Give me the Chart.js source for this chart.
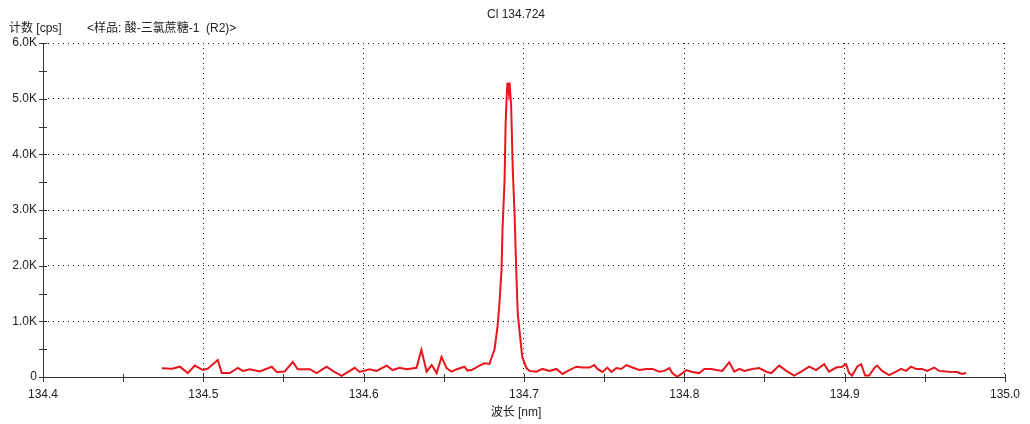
<!DOCTYPE html>
<html>
<head>
<meta charset="utf-8">
<title>Cl 134.724</title>
<script src="https://cdn.jsdelivr.net/npm/chart.js@4/dist/chart.umd.min.js"></script>
<style>
  html, body { margin: 0; padding: 0; background: #fff; }
  #wrap { width: 1030px; height: 424px; }
</style>
</head>
<body>
<div id="wrap"><canvas id="spectrum" width="1030" height="424"></canvas></div>
<script>
// Scan of the Cl 134.724 nm line
const wavelengths = [
  134.4741, 134.4804, 134.4854, 134.4903, 134.4947, 134.4997, 134.5028, 134.5090,
  134.5115, 134.5165, 134.5215, 134.5246, 134.5290, 134.5352, 134.5427, 134.5458,
  134.5508, 134.5558, 134.5589, 134.5664, 134.5707, 134.5769, 134.5807, 134.5863,
  134.5913, 134.5944, 134.5975, 134.6037, 134.6081, 134.6143, 134.6181, 134.6224,
  134.6268, 134.6330, 134.6360, 134.6393, 134.6424, 134.6455, 134.6486, 134.6517,
  134.6548, 134.6586, 134.6629, 134.6648, 134.6673, 134.6723, 134.6754, 134.6785,
  134.6804, 134.6816, 134.6835, 134.6847, 134.6860, 134.6866, 134.6879, 134.6885,
  134.6893, 134.6897, 134.6905, 134.6910, 134.6920, 134.6930, 134.6941, 134.6951,
  134.6961, 134.6976, 134.6989, 134.7016, 134.7034, 134.7078, 134.7115, 134.7159,
  134.7202, 134.7240, 134.7283, 134.7327, 134.7364, 134.7408, 134.7439, 134.7458,
  134.7489, 134.7520, 134.7545, 134.7576, 134.7607, 134.7639, 134.7676, 134.7720,
  134.7763, 134.7801, 134.7844, 134.7875, 134.7907, 134.7925, 134.7956, 134.7988,
  134.8012, 134.8050, 134.8093, 134.8125, 134.8168, 134.8199, 134.8237, 134.8280,
  134.8312, 134.8343, 134.8374, 134.8424, 134.8467, 134.8511, 134.8542, 134.8592,
  134.8636, 134.8685, 134.8729, 134.8779, 134.8822, 134.8872, 134.8903, 134.8947,
  134.8984, 134.9009, 134.9028, 134.9047, 134.9078, 134.9103, 134.9128, 134.9153,
  134.9184, 134.9202, 134.9234, 134.9277, 134.9321, 134.9352, 134.9383, 134.9414,
  134.9445, 134.9483, 134.9514, 134.9558, 134.9589, 134.9651, 134.9701, 134.9732,
  134.9757
];

const counts = [
  155, 150, 185, 70, 205, 125, 150, 305,
  70, 70, 165, 110, 140, 100, 185, 90,
  100, 270, 140, 140, 70, 185, 110, 20,
  110, 165, 90, 140, 110, 205, 125, 165,
  140, 165, 490, 95, 215, 70, 360, 160,
  95, 145, 185, 115, 125, 205, 245, 235,
  395, 490, 905, 1330, 1925, 2645, 3545, 4500,
  5110, 5290, 5110, 5290, 4865, 3725, 2950, 1980,
  1150, 720, 360, 160, 110, 95, 145, 110,
  145, 55, 125, 185, 170, 170, 215, 145,
  90, 170, 90, 160, 145, 215, 170, 125,
  145, 145, 95, 110, 160, 70, 5, 70,
  125, 90, 70, 145, 145, 125, 110, 265,
  95, 145, 110, 145, 160, 95, 70, 205,
  110, 25, 95, 185, 125, 230, 95, 170,
  185, 230, 70, 25, 185, 230, 25, 25,
  160, 205, 110, 35, 95, 145, 110, 185,
  145, 145, 110, 170, 110, 95, 90, 55,
  70
];

const xRange = [134.4, 135.0];
const yRange = [0, 6000];

const titleText = "Cl 134.724";
const yUnitText = "计数 [cps]";
const sampleText = "<样品: 酸-三氯蔗糖-1  (R2)>";
const xTitleText = "波长 [nm]";

const FONT = '"Liberation Sans", Arial, "Noto Sans CJK SC", sans-serif';
const TEXT_COLOR = "#222";
const AXIS_COLOR = "#333";

const isMajorX = (v) => Math.round(v * 100) % 10 === 0;
const isMajorY = (v) => Math.round(v) % 1000 === 0;

// Solid axes with ticks crossing the line, plus the header texts
const frame = {
  id: "frame",
  afterDraw(chart) {
    const { ctx, chartArea, scales } = chart;
    const { left, right, top, bottom } = chartArea;
    ctx.save();
    ctx.strokeStyle = AXIS_COLOR;
    ctx.lineWidth = 1;
    ctx.beginPath();
    ctx.moveTo(left + 0.5, top);
    ctx.lineTo(left + 0.5, bottom + 0.5);
    ctx.lineTo(right, bottom + 0.5);
    ctx.stroke();

    ctx.beginPath();
    scales.x.ticks.forEach((t) => {
      const px = Math.round(scales.x.getPixelForValue(t.value)) + 0.5;
      ctx.moveTo(px, bottom - 3);
      ctx.lineTo(px, bottom + 5);
    });
    scales.y.ticks.forEach((t) => {
      const py = Math.round(scales.y.getPixelForValue(t.value)) + 0.5;
      ctx.moveTo(left - 4, py);
      ctx.lineTo(left + 4, py);
    });
    ctx.stroke();

    ctx.fillStyle = TEXT_COLOR;
    ctx.font = "12px " + FONT;
    ctx.textBaseline = "middle";
    ctx.textAlign = "center";
    ctx.fillText(titleText, 516, 15);
    ctx.fillText(xTitleText, 516, 413);
    ctx.textAlign = "left";
    ctx.fillText(yUnitText, 9, 29);
    ctx.fillText(sampleText, 87, 29);
    ctx.restore();
  },
};

new Chart(document.getElementById("spectrum"), {
  type: "line",
  data: {
    datasets: [
      {
        data: wavelengths.map((w, i) => ({ x: w, y: counts[i] })),
        borderColor: "#e8161b",
        borderWidth: 2,
        pointRadius: 0,
        tension: 0,
        fill: false,
      },
    ],
  },
  options: {
    responsive: false,
    animation: false,
    layout: { padding: { top: 43, right: 24, left: 0, bottom: 0 } },
    plugins: {
      legend: { display: false },
      tooltip: { enabled: false },
    },
    scales: {
      x: {
        type: "linear",
        min: xRange[0],
        max: xRange[1],
        afterFit: (scale) => { scale.height = 47; },
        border: { display: false, dash: [1, 4] },
        grid: {
          drawTicks: false,
          lineWidth: 1,
          color: (c) =>
            c.tick && isMajorX(c.tick.value) && c.tick.value > xRange[0] + 0.01
              ? "#111"
              : "rgba(0,0,0,0)",
        },
        ticks: {
          stepSize: 0.05,
          autoSkip: false,
          maxRotation: 0,
          padding: 10,
          color: TEXT_COLOR,
          font: { family: FONT, size: 12 },
          callback: (v) => (isMajorX(v) ? Number(v).toFixed(1) : ""),
        },
      },
      y: {
        min: yRange[0],
        max: yRange[1],
        afterFit: (scale) => { scale.width = 43; },
        border: { display: false, dash: [1, 4] },
        grid: {
          drawTicks: false,
          lineWidth: 1,
          color: (c) =>
            c.tick && isMajorY(c.tick.value) && c.tick.value > 0
              ? "#111"
              : "rgba(0,0,0,0)",
        },
        ticks: {
          stepSize: 500,
          autoSkip: false,
          padding: 6,
          color: TEXT_COLOR,
          font: { family: FONT, size: 12 },
          callback: (v) =>
            isMajorY(v) ? (v === 0 ? "0" : (v / 1000).toFixed(1) + "K") : "",
        },
      },
    },
  },
  plugins: [frame],
});
</script>
</body>
</html>
